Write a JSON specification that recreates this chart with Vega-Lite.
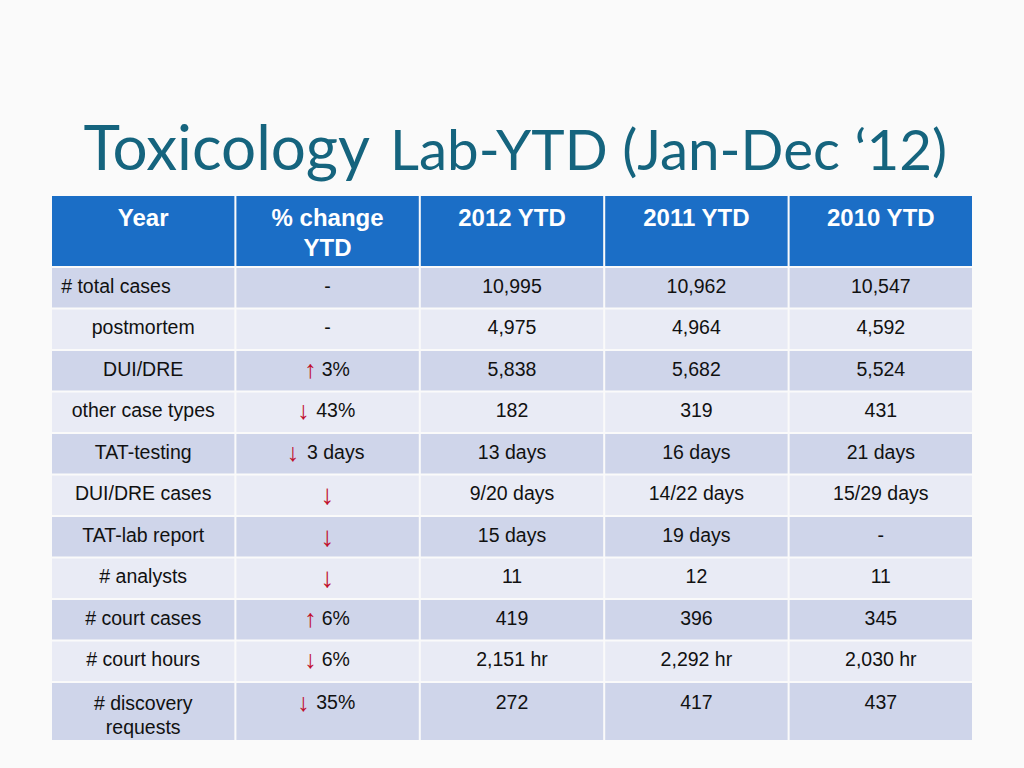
{
  "$schema": "https://vega.github.io/schema/vega-lite/v6.json",
  "background": "#FAFAFA",
  "padding": {"left": 52, "top": 120, "right": 52, "bottom": 28},
  "spacing": 2,
  "config": {"view": {"stroke": null}, "font": "Liberation Sans"},
  "resolve": {"scale": {"x": "independent", "y": "independent"}},
  "datasets": {
    "cols": [
      {"col": "Year", "head": "Year"},
      {"col": "% change YTD", "head": "% change\nYTD"},
      {"col": "2012 YTD", "head": "2012 YTD"},
      {"col": "2011 YTD", "head": "2011 YTD"},
      {"col": "2010 YTD", "head": "2010 YTD"}
    ],
    "table": [
      {"Year": "# total cases", "trend": "", "% change YTD": "-", "2012 YTD": "10,995", "2011 YTD": "10,962", "2010 YTD": "10,547"},
      {"Year": "postmortem", "trend": "", "% change YTD": "-", "2012 YTD": "4,975", "2011 YTD": "4,964", "2010 YTD": "4,592"},
      {"Year": "DUI/DRE", "trend": "↑", "% change YTD": "3%", "2012 YTD": "5,838", "2011 YTD": "5,682", "2010 YTD": "5,524"},
      {"Year": "other case types", "trend": "↓", "% change YTD": "43%", "2012 YTD": "182", "2011 YTD": "319", "2010 YTD": "431"},
      {"Year": "TAT-testing", "trend": "↓", "% change YTD": "3 days", "2012 YTD": "13 days", "2011 YTD": "16 days", "2010 YTD": "21 days"},
      {"Year": "DUI/DRE cases", "trend": "↓", "% change YTD": "", "2012 YTD": "9/20 days", "2011 YTD": "14/22 days", "2010 YTD": "15/29 days"},
      {"Year": "TAT-lab report", "trend": "↓", "% change YTD": "", "2012 YTD": "15 days", "2011 YTD": "19 days", "2010 YTD": "-"},
      {"Year": "# analysts", "trend": "↓", "% change YTD": "", "2012 YTD": "11", "2011 YTD": "12", "2010 YTD": "11"},
      {"Year": "# court cases", "trend": "↑", "% change YTD": "6%", "2012 YTD": "419", "2011 YTD": "396", "2010 YTD": "345"},
      {"Year": "# court hours", "trend": "↓", "% change YTD": "6%", "2012 YTD": "2,151 hr", "2011 YTD": "2,292 hr", "2010 YTD": "2,030 hr"},
      {"Year": "# discovery requests", "trend": "↓", "% change YTD": "35%", "2012 YTD": "272", "2011 YTD": "417", "2010 YTD": "437"}
    ]
  },
  "vconcat": [
    {
      "width": 920,
      "height": 70,
      "data": {"name": "cols"},
      "encoding": {
        "x": {"field": "col", "type": "nominal", "sort": null, "axis": null,
          "scale": {"domain": ["Year", "% change YTD", "2012 YTD", "2011 YTD", "2010 YTD"], "paddingInner": 0.011, "paddingOuter": 0}}
      },
      "layer": [
        {"mark": {"type": "rect", "color": "#1B6EC6"}},
        {"mark": {"type": "text", "color": "white", "fontWeight": "bold", "fontSize": 24, "baseline": "top", "lineHeight": 30, "lineBreak": "\n", "dy": -24},
          "encoding": {"text": {"field": "head"}}},
        {"data": {"values": [{"t": "Toxicology"}]},
          "mark": {"type": "text", "font": "Lato", "fontSize": 62, "color": "#15647E", "align": "right", "baseline": "alphabetic", "dx": -142, "dy": -61},
          "encoding": {"x": {"datum": "2012 YTD"}, "text": {"field": "t"}}},
        {"data": {"values": [{"t": "Lab-YTD (Jan-Dec ‘12)"}]},
          "mark": {"type": "text", "font": "Lato", "fontSize": 56.5, "color": "#15647E", "align": "left", "baseline": "alphabetic", "dx": -122, "dy": -61},
          "encoding": {"x": {"datum": "2012 YTD"}, "text": {"field": "t"}}}
      ]
    },
    {
      "width": 920,
      "height": 413,
      "data": {"name": "table"},
      "transform": [
        {"window": [{"op": "row_number", "as": "rn"}]},
        {"filter": "datum.rn <= 10"}
      ],
      "encoding": {
        "y": {"field": "Year", "type": "nominal", "sort": null, "axis": null, "scale": {"paddingInner": 0.048, "paddingOuter": 0}}
      },
      "layer": [
        {
          "transform": [{"fold": ["Year", "% change YTD", "2012 YTD", "2011 YTD", "2010 YTD"], "as": ["col", "val"]}],
          "mark": {"type": "rect"},
          "encoding": {
            "x": {"field": "col", "type": "nominal", "sort": null, "axis": null,
              "scale": {"domain": ["Year", "% change YTD", "2012 YTD", "2011 YTD", "2010 YTD"], "paddingInner": 0.011, "paddingOuter": 0}},
            "color": {"condition": {"test": "datum.rn % 2 == 1", "value": "#CFD5EA"}, "value": "#E9EBF5"}
          }
        },
        {
          "transform": [{"fold": ["2012 YTD", "2011 YTD", "2010 YTD"], "as": ["col", "val"]}],
          "mark": {"type": "text", "fontSize": 19.5, "color": "#111111", "dy": -1},
          "encoding": {"x": {"field": "col", "type": "nominal"}, "text": {"field": "val"}}
        },
        {
          "transform": [{"filter": "datum.rn != 1"}],
          "mark": {"type": "text", "fontSize": 19.5, "color": "#111111", "dy": -1},
          "encoding": {"x": {"datum": "Year"}, "text": {"field": "Year"}}
        },
        {
          "transform": [{"filter": "datum.rn == 1"}],
          "mark": {"type": "text", "fontSize": 19.5, "color": "#111111", "dy": -1, "align": "left", "dx": -82},
          "encoding": {"x": {"datum": "Year"}, "text": {"field": "Year"}}
        },
        {
          "transform": [
            {"filter": "datum['% change YTD'] != ''"},
            {"calculate": "datum.trend == '' ? datum['% change YTD'] : '\u200b\u00a0\u00a0\u00a0' + datum['% change YTD']", "as": "chg"}
          ],
          "mark": {"type": "text", "fontSize": 19.5, "color": "#111111", "dy": -1},
          "encoding": {"x": {"datum": "% change YTD"}, "text": {"field": "chg"}}
        },
        {
          "transform": [
            {"filter": "datum.trend != '' && datum['% change YTD'] != ''"},
            {"calculate": "datum.trend + pad('', round(0.78 * (2*length(datum['% change YTD']) + 1 + (indexof(datum['% change YTD'], '%') >= 0 ? 1 : 0) - (indexof(datum['% change YTD'], ' ') >= 0 ? 1 : 0)) + 0.6), '\u00a0') + '\u200b'", "as": "arr"}
          ],
          "mark": {"type": "text", "fontSize": 25, "color": "#C0102E", "dy": -1},
          "encoding": {"x": {"datum": "% change YTD"}, "text": {"field": "arr"}}
        },
        {
          "transform": [{"filter": "datum.trend != '' && datum['% change YTD'] == ''"}],
          "mark": {"type": "text", "fontSize": 28, "color": "#C0102E", "dy": 1},
          "encoding": {"x": {"datum": "% change YTD"}, "text": {"field": "trend"}}
        }
      ]
    },
    {
      "width": 920,
      "height": 57,
      "data": {"name": "table"},
      "transform": [
        {"window": [{"op": "row_number", "as": "rn"}]},
        {"filter": "datum.rn == 11"}
      ],
      "encoding": {
        "y": {"field": "Year", "type": "nominal", "sort": null, "axis": null, "scale": {"paddingInner": 0, "paddingOuter": 0}}
      },
      "layer": [
        {
          "transform": [{"fold": ["Year", "% change YTD", "2012 YTD", "2011 YTD", "2010 YTD"], "as": ["col", "val"]}],
          "mark": {"type": "rect"},
          "encoding": {
            "x": {"field": "col", "type": "nominal", "sort": null, "axis": null,
              "scale": {"domain": ["Year", "% change YTD", "2012 YTD", "2011 YTD", "2010 YTD"], "paddingInner": 0.011, "paddingOuter": 0}},
            "color": {"condition": {"test": "datum.rn % 2 == 1", "value": "#CFD5EA"}, "value": "#E9EBF5"}
          }
        },
        {
          "transform": [{"fold": ["2012 YTD", "2011 YTD", "2010 YTD"], "as": ["col", "val"]}],
          "mark": {"type": "text", "fontSize": 19.5, "color": "#111111", "dy": -9},
          "encoding": {"x": {"field": "col", "type": "nominal"}, "text": {"field": "val"}}
        },
        {
          "transform": [{"calculate": "replace(datum.Year, ' requests', '\\nrequests')", "as": "lbl"}],
          "mark": {"type": "text", "fontSize": 19.5, "color": "#111111", "dy": -8, "lineBreak": "\n", "lineHeight": 24},
          "encoding": {"x": {"datum": "Year"}, "text": {"field": "lbl"}}
        },
        {
          "transform": [
            {"filter": "datum['% change YTD'] != ''"},
            {"calculate": "datum.trend == '' ? datum['% change YTD'] : '\u200b\u00a0\u00a0\u00a0' + datum['% change YTD']", "as": "chg"}
          ],
          "mark": {"type": "text", "fontSize": 19.5, "color": "#111111", "dy": -9},
          "encoding": {"x": {"datum": "% change YTD"}, "text": {"field": "chg"}}
        },
        {
          "transform": [
            {"filter": "datum.trend != '' && datum['% change YTD'] != ''"},
            {"calculate": "datum.trend + pad('', round(0.78 * (2*length(datum['% change YTD']) + 1 + (indexof(datum['% change YTD'], '%') >= 0 ? 1 : 0) - (indexof(datum['% change YTD'], ' ') >= 0 ? 1 : 0)) + 0.6), '\u00a0') + '\u200b'", "as": "arr"}
          ],
          "mark": {"type": "text", "fontSize": 25, "color": "#C0102E", "dy": -9},
          "encoding": {"x": {"datum": "% change YTD"}, "text": {"field": "arr"}}
        }
      ]
    }
  ]
}
